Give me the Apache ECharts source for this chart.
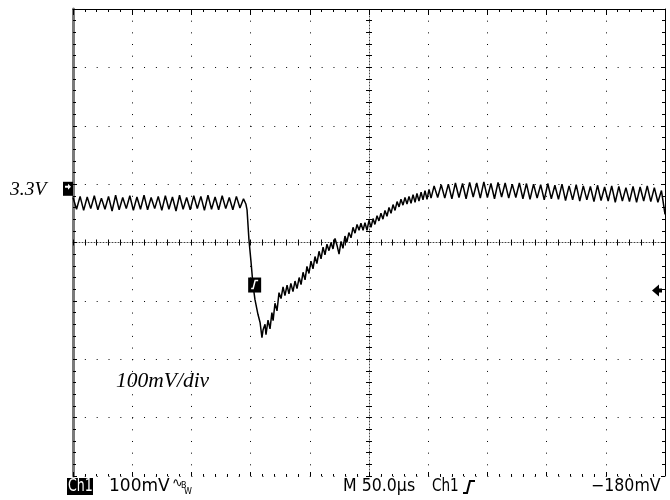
<!DOCTYPE html>
<html><head><meta charset="utf-8">
<script src="https://cdn.jsdelivr.net/npm/echarts@6/dist/echarts.min.js"></script>
<style>html,body{margin:0;padding:0;background:#fff}#c{width:670px;height:500px}</style>
</head><body><div id="c"></div>
<script>
// Time (µs from left edge of screen), 50 µs/div, 10 divisions
const timeUs = [
0,3,6,9,12,15,18,21,24,27,30,33,36,39,42,45,48,51,54,57,60,63,66,69,72,75,78,81,84,87,90,93,96,99,
102,105,108,111,114,117,120,123,126,129,132,135,138,141,144,146,
147,148.6,150.3,152,153.7,155.4,156.2,158,159.6,160.5,162.2,163,164.7,166.4,168,169,170.6,172.3,174,175.7,
177.4,179,180.8,182.4,184,185.8,187.5,189.2,191,192.6,194.3,196,197.6,199.3,201,202.7,204.4,206,207.8,209.5,
211.2,212.8,214.5,216.2,218,219.6,221.3,223,224.7,226.4,228,229.7,231.4,233,234.8,236.5,238.2,239.9,241.6,243.2,
245,246.6,248.3,250,251.7,253.4,255,256.8,258.4,260.1,261.8,263.5,265.2,266.9,268.6,270.3,272,273.7,275.4,277,
278.7,280.4,282.1,283.8,285.5,287.2,288.9,290.5,292.2,294,295.6,297.3,299,300.7,302.4,
305,308,311,314,317,320,323,326,329,332,335,338,341,344,347,350,353,356,359,362,365,368,371,374,377,380,
383,386,389,392,395,398,401,404,407,410,413,416,419,422,425,428,431,434,437,440,443,446,449,452,455,458,
461,464,467,470,473,476,479,482,485,488,491,494,497,499,500
];
// Ch1 signal, mV relative to screen centre (100 mV/div, 8 divisions)
const traceMv = [
77,57,79,55,78,58,80,56,76,57,79,54,81,56,77,58,80,55,78,57,81,56,77,58,79,55,80,57,78,54,81,57,77,56,
80,58,79,55,81,57,78,56,80,58,77,56,79,59,75,66,
56,5,-32,-72,-98,-115,-123,-137,-163,-150,-140,-158,-133,-148,-120,-134,-104,-117,-86,-96,
-76,-91,-73,-88,-70,-84,-66,-79,-60,-72,-51,-64,-41,-53,-32,-45,-24,-36,-15,-28,
-8,-21,-3,-14,0,-11,7,-5,-20,2,-10,11,1,17,8,26,16,31,21,33,
21,34,21,38,26,41,31,46,37,50,40,55,45,60,50,65,55,70,61,74,
64,77,66,79,67,82,69,84,71,86,73,89,74,91,76,
97,77,99,76,100,75,102,77,101,75,103,78,102,76,104,77,101,75,103,78,102,76,100,77,102,75,
101,74,100,76,99,73,101,75,98,74,100,72,97,73,99,71,97,73,96,70,98,72,95,71,97,69,
96,71,94,70,96,69,95,71,97,70,94,69,89,62,48
];
const xRange = [0, 500];     // µs
const xStep = 50;            // µs/div
const yRange = [-400, 400];  // mV
const yStep = 100;           // mV/div
const groundRefMv = 92;      // 3.3V reference marker level
const triggerUs = 153;       // trigger position
const triggerMv = -72;       // trigger level on screen

const chart = echarts.init(document.getElementById('c'), null, {renderer:'canvas'});
const data = timeUs.map((t,i)=>[t, traceMv[i]]);

const G = {left:73, top:9, width:592, height:467};
const hidden = {show:false};
function xa(extra){ return Object.assign({type:'value', min:xRange[0], max:xRange[1], interval:xStep,
  axisLabel:hidden, splitLine:hidden, minorSplitLine:hidden}, extra); }
function ya(extra){ return Object.assign({type:'value', min:yRange[0], max:yRange[1], interval:yStep,
  axisLabel:hidden, splitLine:hidden, minorSplitLine:hidden}, extra); }
const tk = (len)=>({show:true, inside:true, length:len, lineStyle:{color:'#000', width:1}});
const mtk = (len)=>({show:true, splitNumber:5, length:len, lineStyle:{color:'#000', width:1}});

chart.setOption({
  animation:false,
  backgroundColor:'#fff',
  grid:G,
  xAxis:[
    xa({position:'bottom', axisLine:{show:false, onZero:false}, axisTick:tk(4), minorTick:mtk(2),
        splitLine:{show:true, lineStyle:{color:'#000', width:1, type:[1,10.675]}}}),
    xa({position:'top', axisLine:{show:true, onZero:false, lineStyle:{color:'#000', width:1}}, axisTick:tk(6), minorTick:mtk(3)}),
    xa({position:'bottom', offset:-233.5, axisLine:{show:true, onZero:false, lineStyle:{color:'#444', width:1, type:[1,2]}}, axisTick:tk(3), minorTick:mtk(3)}),
    xa({position:'top', offset:-233.5, axisLine:{show:false, onZero:false}, axisTick:tk(3), minorTick:mtk(3)})
  ],
  yAxis:[
    ya({position:'left', axisLine:{show:true, onZero:false, lineStyle:{color:'#7a7a7a', width:3}}, axisTick:tk(4), minorTick:mtk(3),
        splitLine:{show:true, lineStyle:{color:'#000', width:1, type:[1,10.84]}}}),
    ya({position:'right', axisLine:{show:true, onZero:false, lineStyle:{color:'#000', width:1}}, axisTick:tk(4), minorTick:mtk(3)}),
    ya({position:'left', offset:-296, axisLine:{show:true, onZero:false, lineStyle:{color:'#444', width:1, type:[1,2]}}, axisTick:tk(3), minorTick:mtk(3)}),
    ya({position:'right', offset:-296, axisLine:{show:false, onZero:false}, axisTick:tk(3), minorTick:mtk(3)})
  ],
  series:[{
    type:'line', xAxisIndex:0, yAxisIndex:0, data:data, showSymbol:false, symbol:'none',
    lineStyle:{color:'#000', width:1.5}, z:5
  }]
});

// annotations anchored on the axes
const gy = chart.convertToPixel({yAxisIndex:0}, groundRefMv);
const tp = chart.convertToPixel({xAxisIndex:0, yAxisIndex:0}, [triggerUs, triggerMv]);
const ty = tp[1];
const bottomFont = '17px "DejaVu Sans"';
chart.setOption({graphic:[
  {type:'rect', shape:{x:63, y:gy-7, width:10, height:14}, style:{fill:'#000'}, z:10},
  {type:'polygon', shape:{points:[[65,gy-3],[68,gy-3],[68,gy-5],[71,gy-2],[68,gy+1],[68,gy-1],[65,gy-1]]}, style:{fill:'#fff'}, z:11},
  {type:'text', x:10, y:gy+1, style:{text:'3.3V', font:'italic 19.5px "Liberation Serif"', fill:'#000', verticalAlign:'middle'}, z:10},
  {type:'text', x:116, y:381, style:{text:'100mV/div', font:'italic 21.5px "Liberation Serif"', fill:'#000', verticalAlign:'middle'}, z:10},
  {type:'rect', shape:{x:tp[0]-6, y:ty-7, width:13, height:15}, style:{fill:'#000'}, z:10},
  {type:'polyline', shape:{points:[[tp[0]-3,ty+4],[tp[0]-1,ty+4],[tp[0]+1,ty-4],[tp[0]+4,ty-4]]}, style:{stroke:'#fff', lineWidth:1.5, fill:null}, z:11},
  {type:'polygon', shape:{points:[[652,ty+6],[659,ty],[659,ty+4],[662,ty+4],[662,ty+8],[659,ty+8],[659,ty+12]]}, style:{fill:'#000'}, z:10},
  {type:'rect', shape:{x:67, y:478, width:26, height:17}, style:{fill:'#000'}, z:10},
  {type:'text', x:68, y:487, scaleX:0.74, originX:0, originY:0, style:{text:'Ch1', font:bottomFont, fill:'#fff', verticalAlign:'middle'}, z:11},
  {type:'text', x:109, y:487, style:{text:'100mV', font:bottomFont, fill:'#000', verticalAlign:'middle'}, z:10},
  {type:'text', x:172, y:484, style:{text:'∿', font:'13px "DejaVu Sans"', fill:'#000', verticalAlign:'middle'}, z:10},
  {type:'text', x:181, y:486, style:{text:'B', font:'8px "DejaVu Sans"', fill:'#000', verticalAlign:'middle'}, z:10},
  {type:'text', x:184, y:492, style:{text:'W', font:'8px "DejaVu Sans"', fill:'#000', verticalAlign:'middle'}, z:10},
  {type:'text', x:343, y:487, scaleX:0.93, originX:0, originY:0, style:{text:'M 50.0µs', font:bottomFont, fill:'#000', verticalAlign:'middle'}, z:10},
  {type:'text', x:432, y:487, scaleX:0.8, originX:0, originY:0, style:{text:'Ch1', font:bottomFont, fill:'#000', verticalAlign:'middle'}, z:10},
  {type:'polyline', shape:{points:[[463,493],[467,493],[470,481],[475,481]]}, style:{stroke:'#000', lineWidth:2, fill:null}, z:10},
  {type:'text', x:591, y:487, scaleX:0.93, originX:0, originY:0, style:{text:'−180mV', font:bottomFont, fill:'#000', verticalAlign:'middle'}, z:10}
]});
</script></body></html>
